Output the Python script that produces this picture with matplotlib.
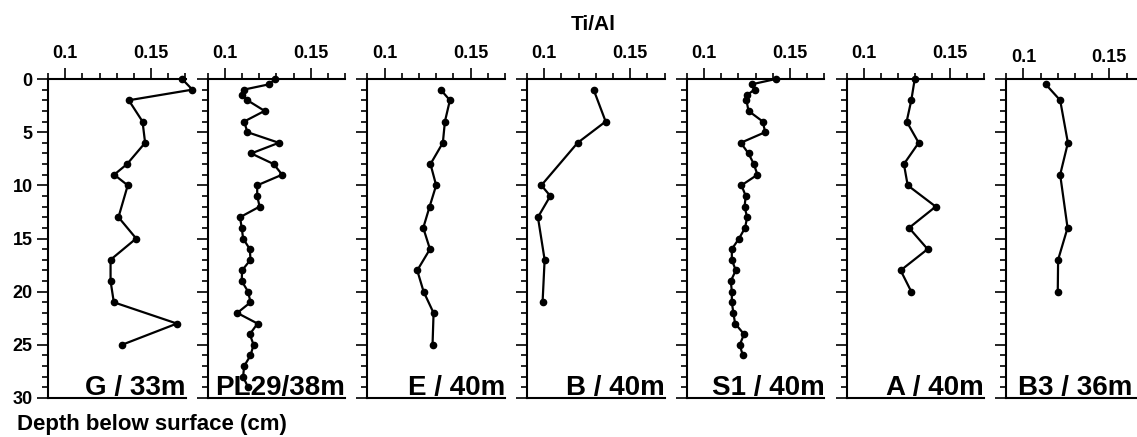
import matplotlib
matplotlib.use('Agg')
import matplotlib.pyplot as plt
from matplotlib.ticker import MultipleLocator, FormatStrFormatter

plt.rcParams['font.family'] = ['Liberation Sans', 'DejaVu Sans']
plt.rcParams['font.weight'] = 'bold'

# Ti/Al profiles, depth in cm
g_depth = [0, 1, 2, 4, 6, 8, 9, 10, 13, 15, 17, 19, 21, 23, 25]
g_ti = [0.168, 0.174, 0.137, 0.145, 0.1465, 0.136, 0.1285, 0.1364, 0.131,
        0.1413, 0.1264, 0.1264, 0.1283, 0.165, 0.133]

pl_depth = [0, 0.5, 1, 1.5, 2, 3, 4, 5, 6, 7, 8, 9, 10, 11, 12, 13, 14, 15,
            16, 17, 18, 19, 20, 21, 22, 23, 24, 25, 26, 27, 28, 29]
pl_ti = [0.1292, 0.1257, 0.111, 0.1102, 0.1131, 0.1231, 0.1112, 0.1131,
         0.1314, 0.1153, 0.1284, 0.1333, 0.1188, 0.1188, 0.1202, 0.1088,
         0.1098, 0.1106, 0.1145, 0.1149, 0.110, 0.1098, 0.1135, 0.1149,
         0.1072, 0.119, 0.1145, 0.1167, 0.1149, 0.1112, 0.1106, 0.1135]

e_depth = [1, 2, 4, 6, 8, 10, 12, 14, 16, 18, 20, 22, 25]
e_ti = [0.1326, 0.138, 0.1351, 0.1339, 0.1267, 0.130, 0.1262, 0.1225,
        0.1264, 0.119, 0.1227, 0.1285, 0.1279]

b_depth = [1, 4, 6, 10, 11, 13, 17, 21]
b_ti = [0.1287, 0.1357, 0.1194, 0.0983, 0.1035, 0.0963, 0.1002, 0.099]

s1_depth = [0, 0.5, 1, 1.5, 2, 3, 4, 5, 6, 7, 8, 9, 10, 11, 12, 13, 14, 15,
            16, 17, 18, 19, 20, 21, 22, 23, 24, 25, 26]
s1_ti = [0.1418, 0.1278, 0.1294, 0.1251, 0.1247, 0.1259, 0.1342, 0.1356,
         0.1214, 0.1259, 0.129, 0.1311, 0.1218, 0.1243, 0.1236, 0.1251,
         0.1239, 0.1204, 0.1162, 0.1162, 0.1185, 0.1156, 0.1162, 0.1162,
         0.1171, 0.1181, 0.1233, 0.1208, 0.1226]

a_depth = [0, 2, 4, 6, 8, 10, 12, 14, 16, 18, 20]
a_ti = [0.1297, 0.1277, 0.125, 0.132, 0.1234, 0.1256, 0.1419, 0.1264,
        0.1372, 0.1215, 0.1277]

b3_depth = [0.5, 2, 6, 9, 14, 17, 20]
b3_ti = [0.113, 0.1214, 0.1259, 0.1214, 0.1257, 0.1202, 0.120]

cores = [
    ('G / 33m', g_depth, g_ti),
    ('PL29/38m', pl_depth, pl_ti),
    ('E / 40m', e_depth, e_ti),
    ('B / 40m', b_depth, b_ti),
    ('S1 / 40m', s1_depth, s1_ti),
    ('A / 40m', a_depth, a_ti),
    ('B3 / 36m', b3_depth, b3_ti),
]

W, H = 1137, 437
fig = plt.figure(figsize=(W / 100, H / 100), dpi=100)

for i, (name, depth, ti) in enumerate(cores):
    left = 48 + 159.7 * i
    ax = fig.add_axes([left / W, 1 - 398 / H, 137.5 / W, 319 / H])
    ax.plot(ti, depth, color='black', lw=1.6, marker='o', ms=4.5,
            clip_on=False, zorder=3)
    ax.set_xlim(0.09, 0.17)
    ax.set_ylim(30, 0)
    ax.xaxis.set_major_locator(MultipleLocator(0.05))
    ax.xaxis.set_minor_locator(MultipleLocator(0.01))
    ax.xaxis.set_major_formatter(FormatStrFormatter('%g'))
    ax.yaxis.set_major_locator(MultipleLocator(5))
    ax.yaxis.set_minor_locator(MultipleLocator(1))
    ax.spines['right'].set_visible(False)
    for s in ['left', 'top', 'bottom']:
        ax.spines[s].set_linewidth(1.5)
    pad = 4 if i < 6 else 1
    ax.tick_params(axis='x', which='both', top=True, bottom=False,
                   labeltop=True, labelbottom=False, direction='out',
                   width=1.2, labelsize=13, pad=pad)
    ax.tick_params(axis='y', which='both', direction='out', width=1.2,
                   labelsize=13, labelleft=(i == 0), pad=3)
    ax.tick_params(which='major', length=8)
    ax.tick_params(which='minor', length=4.5)
    tx = 1.0 if i < 6 else 0.916
    ax.text(tx, 0.01, name, transform=ax.transAxes, ha='right',
            va='baseline', fontsize=20, fontweight='bold', zorder=4)

fig.text(593.5 / W, 1 - 24 / H, 'Ti/Al', ha='center', va='center',
         fontsize=15, fontweight='bold')
fig.text(17 / W, 1 - 430 / H, 'Depth below surface (cm)', ha='left',
         va='baseline', fontsize=16, fontweight='bold')

fig.savefig('out.png', dpi=100)
